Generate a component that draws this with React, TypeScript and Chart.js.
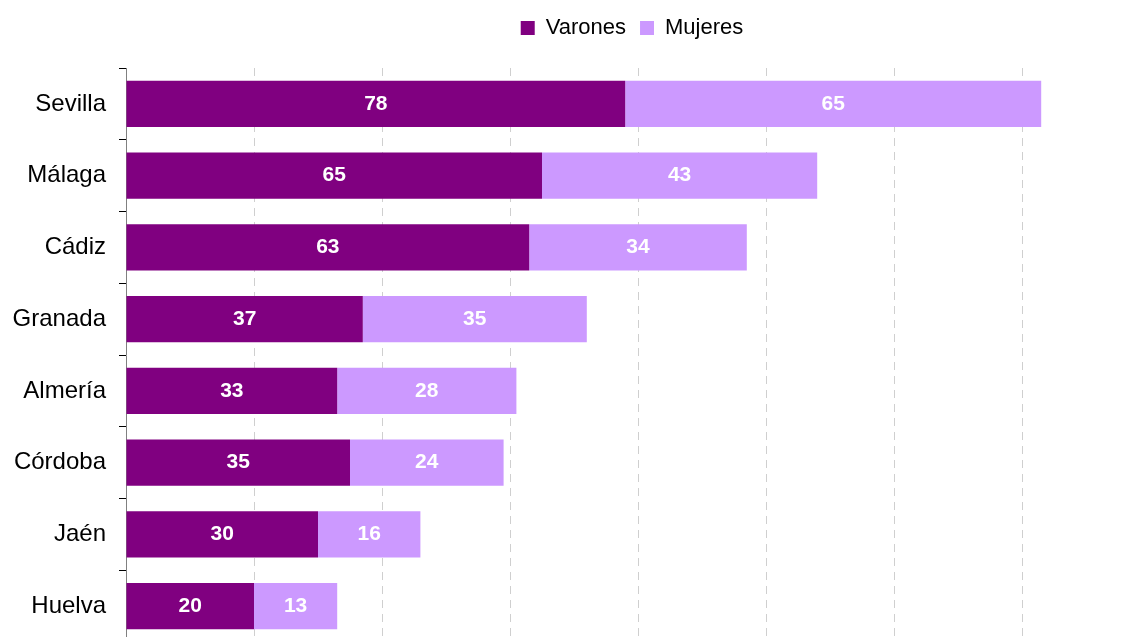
import React, { useEffect, useRef } from "react";
import { Chart, registerables } from "chart.js";

Chart.register(...registerables);

const categories = ["Sevilla", "Málaga", "Cádiz", "Granada", "Almería", "Córdoba", "Jaén", "Huelva"];
const varones = [78, 65, 63, 37, 33, 35, 30, 20];
const mujeres = [65, 43, 34, 35, 28, 24, 16, 13];
const seriesNames = ["Varones", "Mujeres"];
const FONT = "'Liberation Sans', Arial, sans-serif";

const valueLabels = {
  id: "valueLabels",
  afterDatasetsDraw(chart: any) {
    const ctx = chart.ctx;
    ctx.save();
    ctx.fillStyle = "#ffffff";
    ctx.font = `bold 21px ${FONT}`;
    ctx.textAlign = "center";
    ctx.textBaseline = "middle";
    chart.data.datasets.forEach((ds: any, di: number) => {
      const meta = chart.getDatasetMeta(di);
      meta.data.forEach((el: any, i: number) => {
        const x = (el.x + el.base) / 2;
        ctx.fillText(String(ds.data[i]), x, el.y);
      });
    });
    ctx.restore();
  },
};

const legendShift = {
  id: "legendShift",
  afterLayout(chart: any) {
    const l = chart.legend;
    if (l) {
      l.left += 89;
      l.right += 89;
    }
  },
};

export default function App() {
  const ref = useRef<HTMLCanvasElement | null>(null);
  useEffect(() => {
    if (!ref.current) return;
    const chart = new Chart(ref.current, {
      type: "bar",
      data: {
        labels: categories,
        datasets: [
          { label: seriesNames[0], data: varones, backgroundColor: "#800080", borderWidth: 0 },
          { label: seriesNames[1], data: mujeres, backgroundColor: "#CC99FF", borderWidth: 0 },
        ],
      },
      options: {
        indexAxis: "y",
        animation: false,
        responsive: true,
        maintainAspectRatio: false,
        layout: { padding: { left: 0, right: 51, top: 3, bottom: 0 } },
        datasets: { bar: { categoryPercentage: 1, barPercentage: 0.645 } },
        scales: {
          x: {
            position: "top",
            stacked: true,
            min: 0,
            max: 150,
            ticks: { display: false, stepSize: 20 },
            grid: {
              drawTicks: false,
              color: (c: any) => (c.tick && c.tick.value > 0 && c.tick.value % 20 === 0 ? "#cfcfcf" : "rgba(0,0,0,0)"),
              lineWidth: 1,
            },
            border: { display: false, dash: [8, 6] },
            afterFit: (s: any) => { s.height = 19; s.paddingLeft = 0; s.paddingRight = 0; },
          },
          y: {
            stacked: true,
            ticks: { color: "#000", font: { family: FONT, size: 24 }, padding: 13 },
            grid: { drawOnChartArea: false, drawTicks: true, tickLength: 7, color: "#000", tickColor: "#000", offset: true },
            border: { display: true, color: "#808080", width: 1 },
            afterFit: (s: any) => { s.width = 126; s.paddingTop = 0; s.paddingBottom = 0; },
          },
        },
        plugins: {
          legend: {
            position: "top",
            labels: {
              boxWidth: 14,
              boxHeight: 14,
              padding: 14,
              color: "#000",
              font: { family: FONT, size: 22 },
            },
          },
          tooltip: { enabled: false },
        },
      },
      plugins: [valueLabels, legendShift],
    } as any);
    return () => chart.destroy();
  }, []);
  return (
    <div style={{ position: "fixed", left: 0, top: 0, width: 1137, height: 642 }}>
      <canvas ref={ref} />
    </div>
  );
}
